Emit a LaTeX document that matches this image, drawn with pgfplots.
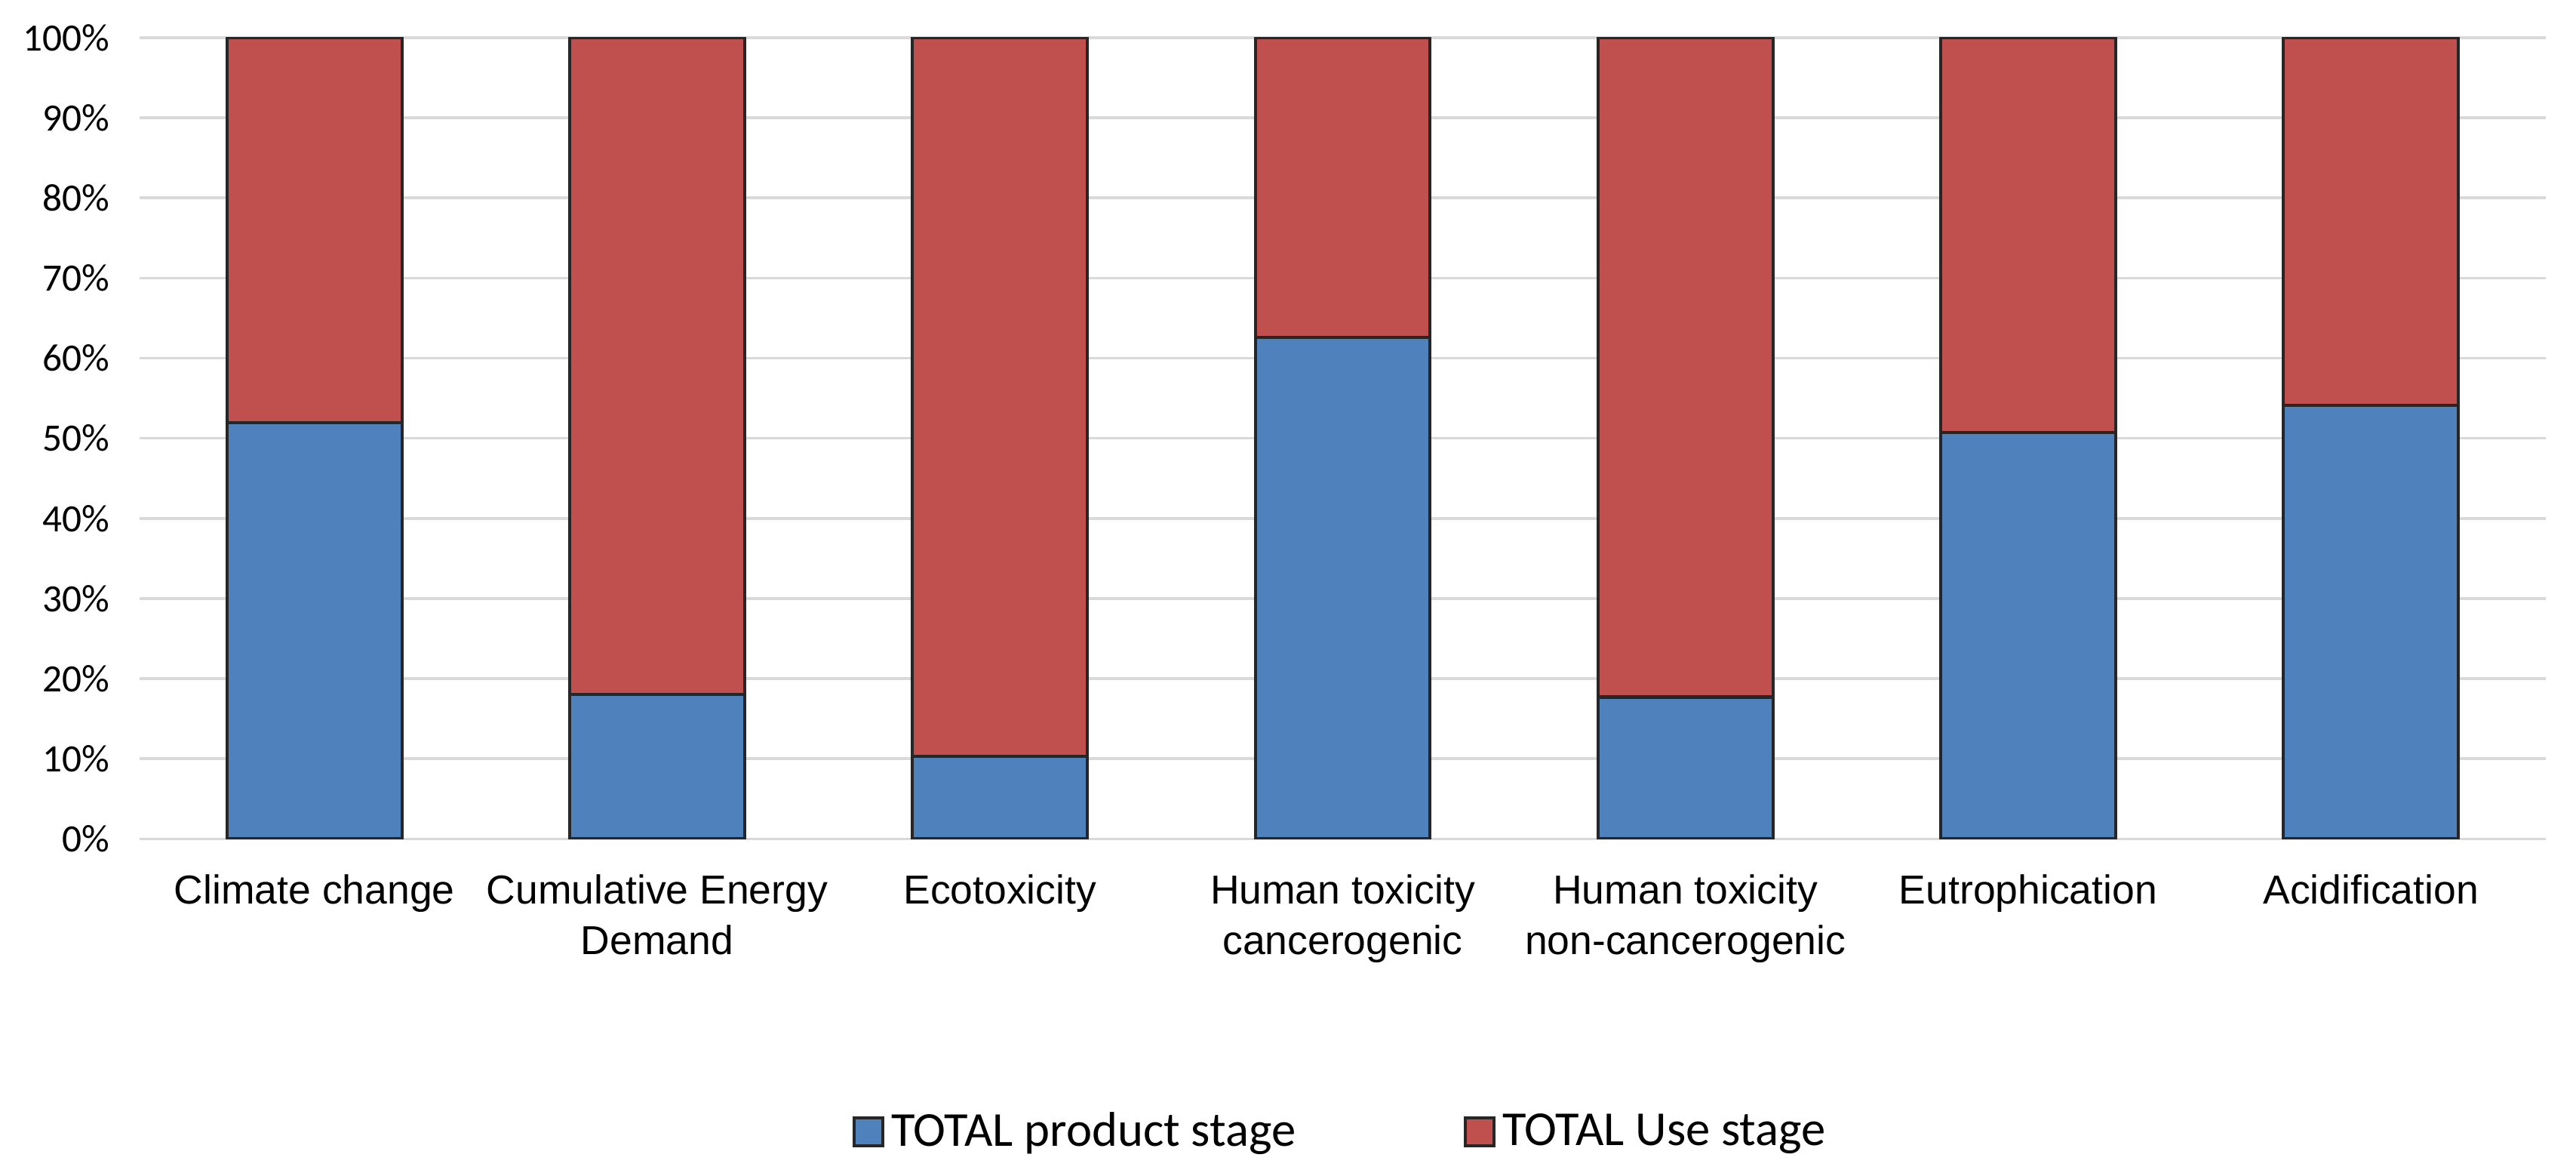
\documentclass[border=0pt]{standalone}
\usepackage{fontspec}
\setmainfont{Carlito}
\newfontfamily\arial{Liberation Sans}
\usepackage{pgfplots}
\pgfplotsset{compat=1.18}

\definecolor{prodblue}{HTML}{4F81BD}
\definecolor{usered}{HTML}{C0504D}
\definecolor{gridgray}{HTML}{D9D9D9}

\begin{document}
\begin{tikzpicture}
\begin{axis}[
    ybar stacked,
    scale only axis,
    width=715pt,
    height=238pt,
    bar width=0.51,
    xmin=-0.51, xmax=6.51,
    ymin=0, ymax=100,
    xtick={0,1,2,3,4,5,6},
    xticklabels={{Climate change},{Cumulative Energy\\Demand},{Ecotoxicity},{Human toxicity\\cancerogenic},{Human toxicity\\non-cancerogenic},{Eutrophication},{Acidification}},
    xticklabel style={font=\arial\fontsize{12}{15}\selectfont, align=center, yshift=-7pt},
    ytick={0,10,...,100},
    yticklabel={\pgfmathprintnumber{\tick}\%},
    yticklabel style={font=\fontsize{11.5}{13}\selectfont, xshift=-5.5pt},
    /pgf/number format/assume math mode=true,
    major tick length=0pt,
    axis line style={draw=none},
    ymajorgrids,
    grid style={gridgray, line width=0.8pt},
    legend columns=2,
    legend style={draw=none, at={(axis description cs:0.5,0)}, anchor=center, yshift=-87pt,
        font=\fontsize{14.5}{17}\selectfont,
        /tikz/every even column/.append style={column sep=48pt}},
    legend image code/.code={\draw[#1] (0pt,-4.2pt) rectangle (8.5pt,4.2pt);},
]
\addplot[fill=prodblue, draw=black!85, line width=0.9pt] coordinates {
    (0,51.9) (1,18.0) (2,10.3) (3,62.6) (4,17.7) (5,50.7) (6,54.1)};
\addplot[fill=usered, draw=black!85, line width=0.9pt] coordinates {
    (0,48.1) (1,82.0) (2,89.7) (3,37.4) (4,82.3) (5,49.3) (6,45.9)};
\legend{TOTAL product stage, TOTAL Use stage}
\end{axis}
\path ([xshift=-41.5pt,yshift=-100pt]current axis.south west) rectangle ([xshift=9pt,yshift=11.2pt]current axis.north east);
\end{tikzpicture}
\end{document}
